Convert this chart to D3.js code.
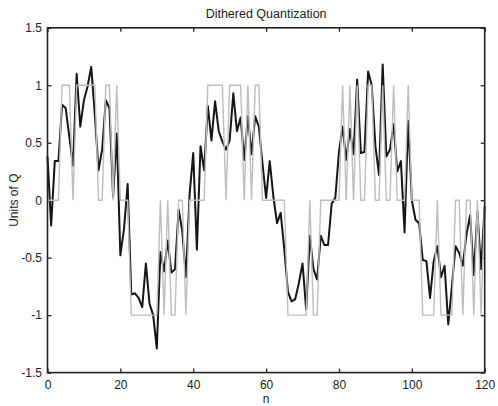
<!DOCTYPE html>
<html>
<head>
<meta charset="utf-8">
<script src="https://cdn.jsdelivr.net/npm/d3@7"></script>
<style>
  html, body { margin: 0; padding: 0; background: #fff; }
  svg text { font-family: "Liberation Sans", Arial, Helvetica, sans-serif; fill: #222; }
</style>
</head>
<body>
<svg id="chart" width="498" height="406"></svg>
<script>
// Dithered signal (black), n = 0..120
const dithered = [
  0.38, -0.22, 0.34, 0.34, 0.83, 0.80, 0.55, 0.30, 1.10, 0.64,
  0.87, 0.99, 1.16, 0.74, 0.26, 0.44, 0.87, 0.80, 0.03, 0.58,
  -0.48, -0.25, 0.14, -0.82, -0.81, -0.85, -0.93, -0.55, -0.90, -1.00,
  -1.29, -0.45, -0.62, -0.35, -0.63, -0.60, -0.08, -0.27, -0.67, 0.05,
  0.41, -0.43, 0.47, 0.26, 0.82, 0.52, 0.86, 0.60, 0.51, 0.44,
  0.52, 0.93, 0.60, 0.72, 0.35, 0.73, 0.40, 0.73, 0.64, 0.32,
  0.02, 0.34, 0.03, -0.20, -0.11, -0.43, -0.80, -0.88, -0.86, -0.72,
  -0.55, -0.95, -0.31, -0.60, -0.69, -0.31, -0.39, -0.39, -0.03, 0.02,
  0.42, 0.64, 0.35, 0.62, 0.40, 1.05, 0.41, 0.42, 1.12, 1.00,
  0.47, 0.22, 1.18, 0.38, 0.44, 0.66, 0.25, 0.34, -0.28, 0.69,
  0.00, -0.17, -0.20, -0.52, -0.53, -0.85, -0.53, -0.40, -0.67, -0.57,
  -1.08, -0.75, -0.40, -0.46, -0.57, -0.30, -0.13, -0.65, -0.10, -0.60,
  -0.05
];
// Quantized output (gray), n = 0..120
const quantized = [
  0, 0, 0, 0, 1, 1, 1, 0, 1, 1,
  1, 1, 1, 1, 0, 0, 1, 1, 0, 1,
  0, 0, 0, -1, -1, -1, -1, -1, -1, -1,
  -1, 0, -1, 0, -1, -1, 0, 0, -1, 0,
  0, 0, 0, 0, 1, 1, 1, 1, 1, 0,
  1, 1, 1, 1, 0, 1, 0, 1, 1, 0,
  0, 0, 0, 0, 0, 0, -1, -1, -1, -1,
  -1, -1, 0, -1, -1, 0, 0, 0, 0, 0,
  0, 1, 0, 1, 0, 1, 0, 0, 1, 1,
  0, 0, 1, 0, 0, 1, 0, 0, 0, 1,
  0, 0, 0, -1, -1, -1, -1, 0, -1, -1,
  -1, -1, 0, 0, -1, 0, 0, -1, 0, -1,
  0
];
const xTicks = [0, 20, 40, 60, 80, 100, 120];
const yTicks = [-1.5, -1, -0.5, 0, 0.5, 1, 1.5];
const titleText = "Dithered Quantization";
const xLabel = "n";
const yLabel = "Units of Q";

const svg = d3.select("#chart");
const L = 47.5, R = 484.7, T = 27.8, B = 372.6;
const x = d3.scaleLinear().domain([0, 120]).range([L, R]);
const y = d3.scaleLinear().domain([-1.5, 1.5]).range([B, T]);

const fmt = d => String(d);
const FS = 12;

// axes (ticks inward)
const gx = svg.append("g").attr("transform", `translate(0,${B})`)
  .call(d3.axisBottom(x).tickValues(xTicks).tickFormat(fmt).tickSizeInner(-4).tickSizeOuter(0).tickPadding(8));
const gxt = svg.append("g").attr("transform", `translate(0,${T})`)
  .call(d3.axisTop(x).tickValues(xTicks).tickFormat("").tickSizeInner(-4).tickSizeOuter(0));
const gy = svg.append("g").attr("transform", `translate(${L},0)`)
  .call(d3.axisLeft(y).tickValues(yTicks).tickFormat(fmt).tickSizeInner(-4).tickSizeOuter(0).tickPadding(5.5));
const gyr = svg.append("g").attr("transform", `translate(${R},0)`)
  .call(d3.axisRight(y).tickValues(yTicks).tickFormat("").tickSizeInner(-4).tickSizeOuter(0));

[gx, gxt, gy, gyr].forEach(g => {
  g.select(".domain").remove();
  g.selectAll(".tick line").attr("stroke", "#222").attr("stroke-width", 1.3);
  g.selectAll(".tick text").attr("font-size", FS).attr("fill", "#222")
    .attr("font-family", '"Liberation Sans", Arial, Helvetica, sans-serif');
});

// lines
const line = d3.line().x((d, i) => x(i)).y(d => y(d));
svg.append("path").datum(dithered)
  .attr("fill", "none").attr("stroke", "#151515").attr("stroke-width", 2)
  .attr("stroke-linejoin", "round").attr("d", line);
svg.append("path").datum(quantized)
  .attr("fill", "none").attr("stroke", "#bebebe").attr("stroke-width", 1.4)
  .attr("stroke-linejoin", "miter").attr("d", line);

// frame
svg.append("rect").attr("x", L).attr("y", T).attr("width", R - L).attr("height", B - T)
  .attr("fill", "none").attr("stroke", "#222").attr("stroke-width", 1.6);

// texts
svg.append("text").attr("x", (L + R) / 2).attr("y", 17.5).attr("text-anchor", "middle")
  .attr("font-size", 12.5).text(titleText);
svg.append("text").attr("x", (L + R) / 2).attr("y", 403).attr("text-anchor", "middle")
  .attr("font-size", FS).text(xLabel);
svg.append("text").attr("transform", `translate(18,${(T + B) / 2}) rotate(-90)`)
  .attr("text-anchor", "middle").attr("font-size", FS).text(yLabel);
</script>
</body>
</html>
